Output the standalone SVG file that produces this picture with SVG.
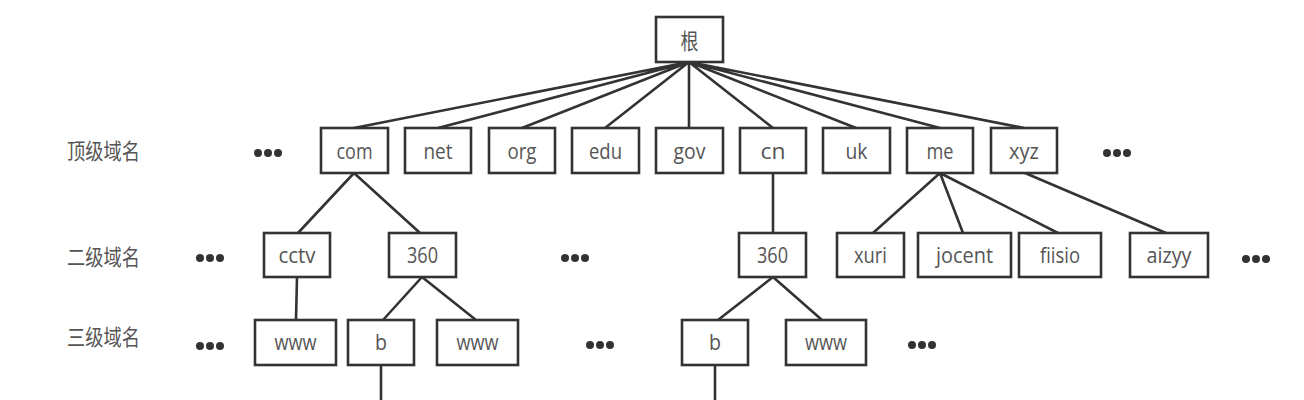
<svg xmlns="http://www.w3.org/2000/svg" width="1304" height="400" viewBox="0 0 1304 400">
<style>
.box{fill:#fff;stroke:#333;stroke-width:2.6}
.t{font-family:"Open Sans","Noto Sans",sans-serif;font-size:22px;fill:#555;text-anchor:middle}
.c{font-family:"Noto Sans CJK SC","Noto Sans",sans-serif;font-size:22px;fill:#555;text-anchor:middle}
.lbl{font-family:"Noto Sans CJK SC","Noto Sans",sans-serif;font-size:22px;fill:#555}
.ln{stroke:#333;stroke-width:2.6;fill:none;stroke-linecap:round}
.dot{fill:#333}
</style>
<rect width="1304" height="400" fill="#fff"/>
<g id="connectors">
<path class="ln" d="M689 62L354 128M689 62L438 128M689 62L522 128M689 62L605 128M689 62L689 128M689 62L773 128M689 62L856 128M689 62L940 128M689 62L1024 128"/>
<path class="ln" d="M354 173L298 233M354 173L420 233M297 277L296 320M422 277L383 320M422 277L476 320M381 365L381 402"/>
<path class="ln" d="M773 173L773 233M773 277L718 320M773 277L822 320M715 365L715 402"/>
<path class="ln" d="M940 173L873 233M940 173L963 233M940 173L1058 233M1025 173L1166 233"/>
</g>
<g id="labels">
<text class="lbl" x="67" y="159" textLength="73" lengthAdjust="spacingAndGlyphs">顶级域名</text>
<text class="lbl" x="67" y="265" textLength="73" lengthAdjust="spacingAndGlyphs">二级域名</text>
<text class="lbl" x="67" y="345" textLength="73" lengthAdjust="spacingAndGlyphs">三级域名</text>
</g>
<g id="dots">
<circle class="dot" cx="258" cy="153" r="4"/><circle class="dot" cx="268" cy="153" r="4"/><circle class="dot" cx="278" cy="153" r="4"/>
<circle class="dot" cx="1107" cy="153" r="4"/><circle class="dot" cx="1117" cy="153" r="4"/><circle class="dot" cx="1127" cy="153" r="4"/>
<circle class="dot" cx="200" cy="258" r="4"/><circle class="dot" cx="210" cy="258" r="4"/><circle class="dot" cx="220" cy="258" r="4"/>
<circle class="dot" cx="565" cy="258" r="4"/><circle class="dot" cx="575" cy="258" r="4"/><circle class="dot" cx="585" cy="258" r="4"/>
<circle class="dot" cx="1246" cy="259" r="4"/><circle class="dot" cx="1256" cy="259" r="4"/><circle class="dot" cx="1266" cy="259" r="4"/>
<circle class="dot" cx="200" cy="346" r="4"/><circle class="dot" cx="210" cy="346" r="4"/><circle class="dot" cx="220" cy="346" r="4"/>
<circle class="dot" cx="590" cy="345" r="4"/><circle class="dot" cx="600" cy="345" r="4"/><circle class="dot" cx="610" cy="345" r="4"/>
<circle class="dot" cx="912" cy="345" r="4"/><circle class="dot" cx="922" cy="345" r="4"/><circle class="dot" cx="932" cy="345" r="4"/>
</g>
<g id="root"><rect class="box" x="656" y="17" width="67" height="45"/><text class="c" x="689.5" y="49" textLength="18" lengthAdjust="spacingAndGlyphs">根</text></g>
<g id="com"><rect class="box" x="321" y="128" width="67" height="45"/><text class="t" x="354.5" y="158.5" textLength="36" lengthAdjust="spacingAndGlyphs">com</text></g>
<g id="net"><rect class="box" x="405" y="128" width="66" height="45"/><text class="t" x="438" y="158.5" textLength="29" lengthAdjust="spacingAndGlyphs">net</text></g>
<g id="org"><rect class="box" x="489" y="128" width="66" height="45"/><text class="t" x="522" y="158.5" textLength="29" lengthAdjust="spacingAndGlyphs">org</text></g>
<g id="edu"><rect class="box" x="572" y="128" width="67" height="45"/><text class="t" x="605.5" y="158.5" textLength="33" lengthAdjust="spacingAndGlyphs">edu</text></g>
<g id="gov"><rect class="box" x="656" y="128" width="67" height="45"/><text class="t" x="689.5" y="158.5" textLength="32" lengthAdjust="spacingAndGlyphs">gov</text></g>
<g id="cn"><rect class="box" x="740" y="128" width="66" height="45"/><text class="t" x="773" y="158.5" textLength="25" lengthAdjust="spacingAndGlyphs">cn</text></g>
<g id="uk"><rect class="box" x="823" y="128" width="67" height="45"/><text class="t" x="856.5" y="158.5" textLength="22" lengthAdjust="spacingAndGlyphs">uk</text></g>
<g id="me"><rect class="box" x="907" y="128" width="66" height="45"/><text class="t" x="940" y="158.5" textLength="27" lengthAdjust="spacingAndGlyphs">me</text></g>
<g id="xyz"><rect class="box" x="991" y="128" width="66" height="45"/><text class="t" x="1024" y="158.5" textLength="30" lengthAdjust="spacingAndGlyphs">xyz</text></g>
<g id="cctv"><rect class="box" x="264" y="233" width="66" height="44"/><text class="t" x="297" y="263" textLength="37" lengthAdjust="spacingAndGlyphs">cctv</text></g>
<g id="com-360"><rect class="box" x="389" y="233" width="67" height="44"/><text class="t" x="422.5" y="263" textLength="31" lengthAdjust="spacingAndGlyphs">360</text></g>
<g id="cn-360"><rect class="box" x="739" y="233" width="67" height="44"/><text class="t" x="772.5" y="263" textLength="31" lengthAdjust="spacingAndGlyphs">360</text></g>
<g id="xuri"><rect class="box" x="837" y="233" width="67" height="44"/><text class="t" x="870.5" y="263" textLength="33" lengthAdjust="spacingAndGlyphs">xuri</text></g>
<g id="jocent"><rect class="box" x="918" y="233" width="93" height="44"/><text class="t" x="964.5" y="263" textLength="57" lengthAdjust="spacingAndGlyphs">jocent</text></g>
<g id="fiisio"><rect class="box" x="1019" y="233" width="82" height="44"/><text class="t" x="1060" y="263" textLength="40" lengthAdjust="spacingAndGlyphs">fiisio</text></g>
<g id="aizyy"><rect class="box" x="1130" y="233" width="78" height="44"/><text class="t" x="1169" y="263" textLength="45" lengthAdjust="spacingAndGlyphs">aizyy</text></g>
<g id="cctv-www"><rect class="box" x="255" y="320" width="81" height="45"/><text class="t" x="295.5" y="350" textLength="42" lengthAdjust="spacingAndGlyphs">www</text></g>
<g id="com360-b"><rect class="box" x="348" y="320" width="66" height="45"/><text class="t" x="381" y="350" textLength="12" lengthAdjust="spacingAndGlyphs">b</text></g>
<g id="com360-www"><rect class="box" x="437" y="320" width="81" height="45"/><text class="t" x="477.5" y="350" textLength="42" lengthAdjust="spacingAndGlyphs">www</text></g>
<g id="cn360-b"><rect class="box" x="682" y="320" width="66" height="45"/><text class="t" x="715" y="350" textLength="12" lengthAdjust="spacingAndGlyphs">b</text></g>
<g id="cn360-www"><rect class="box" x="786" y="320" width="80" height="45"/><text class="t" x="826" y="350" textLength="42" lengthAdjust="spacingAndGlyphs">www</text></g>
</svg>
